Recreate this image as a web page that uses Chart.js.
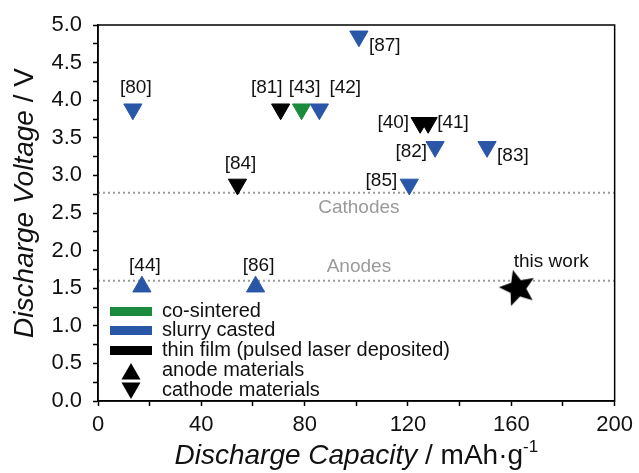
<!DOCTYPE html>
<html>
<head>
<meta charset="utf-8">
<script src="https://cdn.jsdelivr.net/npm/chart.js@4.4.0/dist/chart.umd.min.js"></script>
<style>
  html, body { margin: 0; padding: 0; background: #fff; }
  #wrap { width: 639px; height: 473px; }
</style>
</head>
<body>
<div id="wrap"><canvas id="plot"></canvas></div>
<script>
// --- DATA ---
const refLabels = ['[80]', '[87]', '[81]', '[43]', '[42]', '[84]', '[40]', '[41]', '[82]', '[83]', '[85]', '[44]', '[86]'];
const capacity  = [13.5, 101, 70.7, 78.8, 85.7, 54, 124.7, 127.8, 130.5, 150.6, 120.5, 17, 61];
const voltage   = [3.88, 4.85, 3.88, 3.88, 3.88, 2.88, 3.70, 3.70, 3.38, 3.38, 2.88, 1.52, 1.52];
const method    = ['slurry', 'slurry', 'thin', 'co', 'slurry', 'thin', 'thin', 'thin', 'slurry', 'slurry', 'slurry', 'slurry', 'slurry'];
const material  = ['cathode', 'cathode', 'cathode', 'cathode', 'cathode', 'cathode', 'cathode', 'cathode', 'cathode', 'cathode', 'cathode', 'anode', 'anode'];
const labelSide = ['top', 'rightdown', 'topleft', 'top', 'topright', 'top', 'left', 'right', 'leftdown', 'rightdown', 'leftup', 'top', 'top'];

const thisWork = { x: 162.5, y: 1.50, label: 'this work' };

const cathodeLevel = 2.77;
const anodeLevel = 1.60;

const legendItems = ['co-sintered', 'slurry casted', 'thin film (pulsed laser deposited)'];
const legendKinds = ['anode materials', 'cathode materials'];

const xTitle = 'Discharge Capacity';
const xUnit = ' / mAh\u00b7g';
const yTitle = 'Discharge Voltage';
const yUnit = ' / V';

// --- STYLE ---
const colors = { co: '#1c8a3d', slurry: '#2a56a8', thin: '#000000' };
const FONT = '"Liberation Sans", Arial, Helvetica, sans-serif';

// filled five point star for "this work"
function makeStar(R) {
    const c = document.createElement('canvas');
    const size = Math.ceil(R * 2 + 4);
    c.width = size; c.height = size;
    const g = c.getContext('2d');
    const cx = size / 2, cy = size / 2, r = R * 0.45;
    const rot = -15 * Math.PI / 180;
    g.beginPath();
    for (let i = 0; i < 10; i++) {
        const a = rot + i * Math.PI / 5;
        const rr = i % 2 === 0 ? R : r;
        const px = cx + Math.sin(a) * rr, py = cy - Math.cos(a) * rr;
        if (i === 0) g.moveTo(px, py); else g.lineTo(px, py);
    }
    g.closePath();
    g.fillStyle = '#000';
    g.fill();
    return c;
}
const starImg = makeStar(19);

function triangle(ctx, x, y, r, down) {
    const s = down ? -1 : 1;
    ctx.beginPath();
    ctx.moveTo(x, y - s * r);
    ctx.lineTo(x + r * Math.sin(Math.PI * 2 / 3), y + s * r / 2);
    ctx.lineTo(x - r * Math.sin(Math.PI * 2 / 3), y + s * r / 2);
    ctx.closePath();
    ctx.fill();
}

// label offsets relative to the marker centre
const sideOffsets = {
    top:       { dx: 3,   dy: -21, align: 'center' },
    topleft:   { dx: 2,   dy: -21, align: 'right' },
    topright:  { dx: 10,  dy: -21, align: 'left' },
    right:     { dx: 9,   dy: 0,   align: 'left' },
    rightdown: { dx: 10,  dy: 9,   align: 'left' },
    left:      { dx: -11, dy: 0,   align: 'right' },
    leftdown:  { dx: -8,  dy: 5,   align: 'right' },
    leftup:    { dx: -12, dy: -4,  align: 'right' }
};

const annotations = {
    id: 'annotations',
    afterDatasetsDraw(chart) {
        const ctx = chart.ctx;
        const xs = chart.scales.x, ys = chart.scales.y;
        const area = chart.chartArea;
        ctx.save();

        // reference labels
        ctx.font = '19px ' + FONT;
        ctx.fillStyle = '#111';
        ctx.textBaseline = 'middle';
        const pts = chart.getDatasetMeta(0).data;
        pts.forEach((p, i) => {
            const o = sideOffsets[labelSide[i]];
            ctx.textAlign = o.align;
            ctx.fillText(refLabels[i], p.x + o.dx, p.y + o.dy);
        });
        const star = chart.getDatasetMeta(1).data[0];
        ctx.textAlign = 'left';
        ctx.fillText(thisWork.label, star.x - 4, star.y - 26);

        // region labels
        ctx.fillStyle = '#9a9a9a';
        ctx.textAlign = 'center';
        ctx.fillText('Cathodes', xs.getPixelForValue(101), ys.getPixelForValue(cathodeLevel) + 15);
        ctx.fillText('Anodes', xs.getPixelForValue(101), ys.getPixelForValue(anodeLevel) - 14);

        // legend
        const lx = area.left + 12, b = area.bottom;
        const rows = [b - 90, b - 71, b - 51];
        const swatch = [colors.co, colors.slurry, colors.thin];
        ctx.textAlign = 'left';
        ctx.font = '20px ' + FONT;
        legendItems.forEach((t, i) => {
            ctx.fillStyle = swatch[i];
            ctx.fillRect(lx, rows[i] - 4, 42, 9);
            ctx.fillStyle = '#111';
            ctx.fillText(t, lx + 52, rows[i]);
        });
        ctx.fillStyle = '#000';
        triangle(ctx, lx + 21, b - 27, 11, false);
        triangle(ctx, lx + 21, b - 13, 11, true);
        ctx.fillStyle = '#111';
        ctx.fillText(legendKinds[0], lx + 52, b - 31);
        ctx.fillText(legendKinds[1], lx + 52, b - 11);

        ctx.restore();
    },
    afterDraw(chart) {
        const ctx = chart.ctx;
        const area = chart.chartArea;
        ctx.save();
        // frame
        ctx.strokeStyle = '#000';
        ctx.lineWidth = 1.5;
        ctx.strokeRect(area.left, area.top, area.right - area.left, area.bottom - area.top);

        // axis titles
        ctx.fillStyle = '#111';
        ctx.textBaseline = 'alphabetic';
        ctx.textAlign = 'left';
        const it = 'italic 28px ' + FONT, nf = '28px ' + FONT, sup = '17px ' + FONT;
        ctx.font = it; const w1 = ctx.measureText(xTitle).width;
        ctx.font = nf; const w2 = ctx.measureText(xUnit).width;
        ctx.font = sup; const w3 = ctx.measureText('-1').width;
        let x0 = (area.left + area.right) / 2 - (w1 + w2 + w3) / 2;
        const yb = 464;
        ctx.font = it; ctx.fillText(xTitle, x0, yb);
        ctx.font = nf; ctx.fillText(xUnit, x0 + w1, yb);
        ctx.font = sup; ctx.fillText('-1', x0 + w1 + w2, yb - 12);

        ctx.translate(33, (area.top + area.bottom) / 2 - 10);
        ctx.rotate(-Math.PI / 2);
        ctx.font = it; const v1 = ctx.measureText(yTitle).width;
        ctx.font = nf; const v2 = ctx.measureText(yUnit).width;
        const s0 = -(v1 + v2) / 2;
        ctx.font = it; ctx.fillText(yTitle, s0, 0);
        ctx.font = nf; ctx.fillText(yUnit, s0 + v1, 0);
        ctx.restore();
    }
};

const points = capacity.map((c, i) => ({ x: c, y: voltage[i] }));

new Chart(document.getElementById('plot'), {
    type: 'scatter',
    data: {
        datasets: [
            {
                label: 'references',
                data: points,
                order: 1,
                pointStyle: 'triangle',
                pointRadius: 10.5,
                pointHoverRadius: 10.5,
                pointRotation: ctx => material[ctx.dataIndex] === 'cathode' ? 180 : 0,
                pointBackgroundColor: ctx => colors[method[ctx.dataIndex]],
                pointBorderColor: ctx => colors[method[ctx.dataIndex]],
                pointBorderWidth: 1
            },
            {
                label: 'this work',
                data: [{ x: thisWork.x, y: thisWork.y }],
                order: 0,
                pointStyle: starImg,
                pointRadius: 19
            },
            {
                type: 'line',
                label: 'cathodes',
                data: [{ x: 0, y: cathodeLevel }, { x: 200, y: cathodeLevel }],
                order: 5,
                borderColor: '#9a9a9a',
                borderWidth: 2,
                borderDash: [2, 3],
                pointRadius: 0
            },
            {
                type: 'line',
                label: 'anodes',
                data: [{ x: 0, y: anodeLevel }, { x: 200, y: anodeLevel }],
                order: 5,
                borderColor: '#9a9a9a',
                borderWidth: 2,
                borderDash: [2, 3],
                pointRadius: 0
            }
        ]
    },
    options: {
        responsive: true,
        maintainAspectRatio: false,
        animation: false,
        layout: { padding: { top: 25, right: 23, left: 0, bottom: 0 } },
        plugins: { legend: { display: false }, tooltip: { enabled: false } },
        scales: {
            x: {
                type: 'linear',
                min: 0, max: 200,
                afterFit: s => { s.height = 72; },
                border: { color: '#000', width: 1.5 },
                grid: { drawOnChartArea: false, drawTicks: true, tickLength: 5, tickColor: '#000', tickWidth: 1.5 },
                ticks: {
                    stepSize: 20,
                    autoSkip: false,
                    maxRotation: 0,
                    padding: 6,
                    color: '#111',
                    font: { family: FONT, size: 22 },
                    callback: v => v % 40 === 0 ? String(v) : ''
                }
            },
            y: {
                type: 'linear',
                min: 0, max: 5,
                afterFit: s => { s.width = 98; },
                border: { color: '#000', width: 1.5 },
                grid: { drawOnChartArea: false, drawTicks: true, tickLength: 5, tickColor: '#000', tickWidth: 1.5 },
                ticks: {
                    stepSize: 0.25,
                    autoSkip: false,
                    padding: 11,
                    color: '#111',
                    font: { family: FONT, size: 22 },
                    callback: v => v % 0.5 === 0 ? v.toFixed(1) : ''
                }
            }
        }
    },
    plugins: [annotations]
});
</script>
</body>
</html>
